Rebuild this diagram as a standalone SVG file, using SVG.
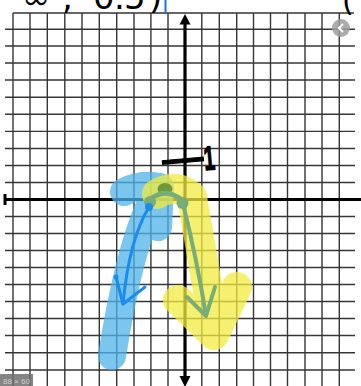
<svg xmlns="http://www.w3.org/2000/svg" width="361" height="386" viewBox="0 0 361 386">
<style>
.grid{stroke:#363636;stroke-width:1.4;fill:none}
.axis{stroke:#000;stroke-width:3.2;fill:none}
.hl{fill:none;stroke-linecap:round;stroke-linejoin:round}
.pen{fill:none;stroke-linecap:round;stroke-linejoin:round}
.hand{font-family:"DejaVu Sans","Liberation Sans",sans-serif;fill:#000}
</style>
<rect width="361" height="386" fill="#fff"/>
<g id="grid">
<path class="grid" d="M13 13V386M30 13V386M47.3 13V386M64.8 13V386M82 13V386M99.3 13V386M116.7 13V386M134 13V386M150.9 13V386M168 13V386M201.8 13V386M219.3 13V386M236.7 13V386M253.5 13V386M270.5 13V386M287.5 13V386M305 13V386M322 13V386M339.3 13V386"/>
<path class="grid" d="M13 13H354M5 29.3H355M5 46H355M5 63H355M5 80H355M5 97.2H355M5 114.3H355M5 131.4H355M5 148.5H355M5 165.5H355M5 182.5H355M5 216.5H355M5 233.5H355M5 250.5H355M5 267.5H355M5 284.5H355M5 301.5H355M5 318.5H355M5 335.5H355M5 352.8H355M5 370H355"/>
</g>
<g id="axes">
<path class="axis" d="M5 199.5H361"/>
<path d="M5 194V205" stroke="#000" stroke-width="3"/>
<path class="axis" d="M185 22V378"/>
<polygon points="185,14 179.5,24.5 190.5,24.5" fill="#000"/>
<polygon points="185,387 179.5,376 190.5,376" fill="#000"/>
</g>
<g id="blue-highlight" opacity="0.75">
<path class="hl" stroke="#4fb3ea" stroke-width="28" d="M124 192Q140 183 160 187L158 227"/>
<path class="hl" stroke="#4fb3ea" stroke-width="28" d="M150 205Q128 255 112 356"/>
</g>
<g id="yellow-highlight" opacity="0.75">
<path class="hl" stroke="#f2eb40" stroke-width="30" d="M157 194Q176 182 192 197L213 320"/>
<path class="hl" stroke="#f2eb40" stroke-width="30" d="M178 300L214 335L237 287"/>
</g>
<g id="green-arrow">
<ellipse cx="165" cy="189" rx="7.5" ry="6" fill="#6f9838"/>
<path class="pen" stroke="#78ad78" stroke-width="5" d="M147 202Q165 185 183 201"/>
<circle cx="150" cy="202" r="6" fill="#78ad78"/>
<circle cx="182.5" cy="203" r="6" fill="#78ad78"/>
<path class="pen" stroke="#78ad78" stroke-width="4" d="M183 204Q196 255 206 315"/>
<path class="pen" stroke="#78ad78" stroke-width="4" d="M187 297L206 316L215 287"/>
</g>
<g id="blue-arrow">
<circle cx="149" cy="207" r="4" fill="#1a8cf0"/>
<path class="pen" stroke="#1a8cf0" stroke-width="3" d="M149 207Q129 240 123 304"/>
<path class="pen" stroke="#1a8cf0" stroke-width="3" d="M116 277L123 304L145 287"/>
<circle cx="116" cy="277" r="2.5" fill="#1a8cf0"/>
</g>
<g id="label-minus-one">
<text x="162" y="172" font-family="Liberation Sans, sans-serif" font-size="34" font-weight="bold" stroke="#000" stroke-width="1.2" transform="rotate(-5 183 162)"><tspan x="160" textLength="46" lengthAdjust="spacingAndGlyphs">−</tspan><tspan x="204" textLength="11" lengthAdjust="spacingAndGlyphs">1</tspan></text>
</g>
<g id="top-notation">
<text class="hand" y="9" font-size="34" x="-6 22 62 75 93 114 124 149">−∞, 0.5)</text>
<path d="M165.5 0V14" stroke="#1a6fe0" stroke-width="2"/>
<text class="hand" x="342" y="11" font-size="30">(</text>
</g>
<g id="ui-button">
<circle cx="341" cy="28" r="9" fill="#9e9e9e" opacity="0.85"/>
<polyline points="343,24 339,28 343,32" fill="none" stroke="#fff" stroke-width="2"/>
</g>
<g id="size-badge">
<rect x="0" y="374" width="33" height="12" fill="#6f6f6f" opacity="0.85"/>
<text x="3" y="384" font-family="Liberation Sans, sans-serif" font-size="8" fill="#cfcfcf">88 × 60</text>
</g>
</svg>
